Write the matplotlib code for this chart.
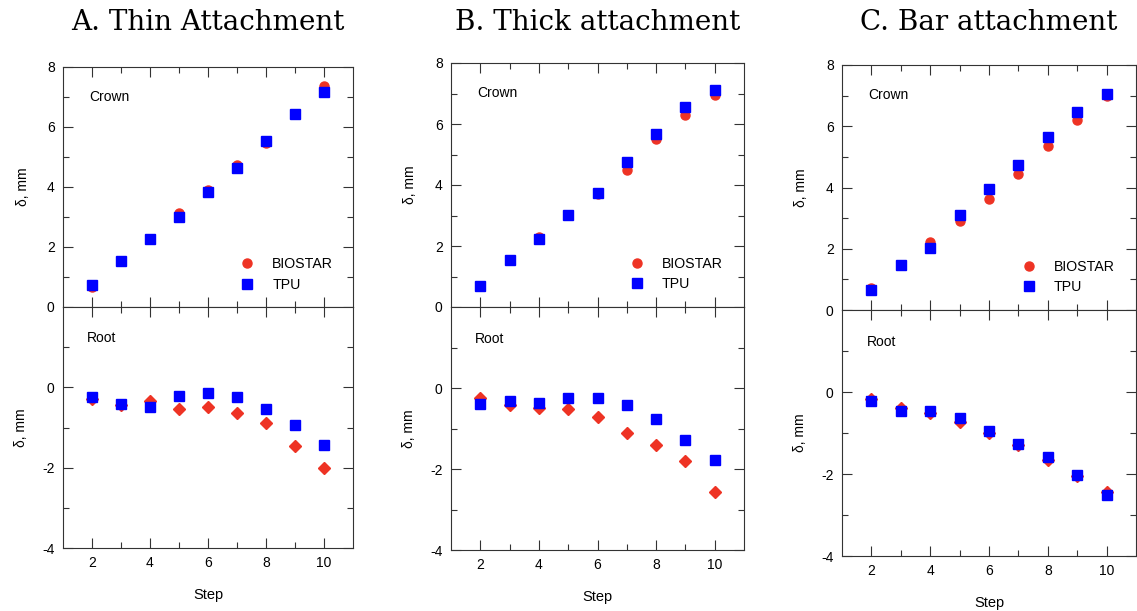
import matplotlib
matplotlib.use("Agg")
import matplotlib.pyplot as plt
from matplotlib.ticker import MultipleLocator, FixedLocator

plt.rcParams['font.family'] = ['Liberation Sans', 'DejaVu Sans']
plt.rcParams['axes.unicode_minus'] = False

steps = [2, 3, 4, 5, 6, 7, 8, 9, 10]

titles = ["A. Thin Attachment", "B. Thick attachment", "C. Bar attachment"]

# Crown deflection (mm)
crown_biostar_A = [0.67, 1.52, 2.27, 3.12, 3.90, 4.72, 5.47, 6.42, 7.38]
crown_tpu_A     = [0.75, 1.52, 2.27, 2.99, 3.82, 4.65, 5.55, 6.44, 7.16]
crown_biostar_B = [0.68, 1.53, 2.31, 3.03, 3.71, 4.50, 5.52, 6.29, 6.96]
crown_tpu_B     = [0.68, 1.53, 2.24, 3.03, 3.73, 4.74, 5.68, 6.56, 7.11]
crown_biostar_C = [0.72, 1.48, 2.22, 2.90, 3.61, 4.43, 5.34, 6.20, 6.99]
crown_tpu_C     = [0.66, 1.48, 2.03, 3.09, 3.94, 4.72, 5.66, 6.46, 7.04]

# Root deflection (mm)
root_biostar_A = [-0.29, -0.43, -0.34, -0.55, -0.48, -0.63, -0.88, -1.46, -2.00]
root_tpu_A     = [-0.24, -0.41, -0.48, -0.21, -0.14, -0.23, -0.53, -0.94, -1.44]
root_biostar_B = [-0.24, -0.41, -0.49, -0.51, -0.72, -1.10, -1.40, -1.81, -2.56]
root_tpu_B     = [-0.39, -0.32, -0.37, -0.25, -0.24, -0.43, -0.77, -1.28, -1.78]
root_biostar_C = [-0.17, -0.39, -0.52, -0.72, -1.00, -1.29, -1.67, -2.06, -2.43]
root_tpu_C     = [-0.21, -0.46, -0.46, -0.63, -0.94, -1.26, -1.59, -2.02, -2.52]

crown_b = [crown_biostar_A, crown_biostar_B, crown_biostar_C]
crown_t = [crown_tpu_A, crown_tpu_B, crown_tpu_C]
root_b = [root_biostar_A, root_biostar_B, root_biostar_C]
root_t = [root_tpu_A, root_tpu_B, root_tpu_C]

RED = '#ee3324'
BLUE = '#0000ff'
W, H = 1137, 611
fig = plt.figure(figsize=(W / 100, H / 100), dpi=100)

# pixel layout: left, right, top, junction, bottom
layout = [(63, 353, 67, 307, 548), (451, 744, 63, 307, 550), (842, 1136, 65, 310, 556)]

def style(ax):
    ax.tick_params(which='both', direction='in', top=True, right=True,
                   labelsize=10, color='#333333', width=0.8)
    ax.tick_params(which='major', length=7, pad=6)
    ax.tick_params(which='minor', length=4)
    for s in ax.spines.values():
        s.set_linewidth(0.8)
        s.set_color('#333333')

for i in range(3):
    l, r, t, j, b = layout[i]
    axc = fig.add_axes([l / W, 1 - j / H, (r - l) / W, (j - t) / H])
    axr = fig.add_axes([l / W, 1 - b / H, (r - l) / W, (b - j) / H])

    axc.plot(steps, crown_b[i], 'o', color=RED, ms=6.5, mec=RED, label='BIOSTAR', zorder=3)
    axc.plot(steps, crown_t[i], 's', color=BLUE, ms=6.5, mec=BLUE, label='TPU', zorder=4)
    axr.plot(steps, root_b[i], 'D', color=RED, ms=6, mec=RED, zorder=3)
    axr.plot(steps, root_t[i], 's', color=BLUE, ms=6.5, mec=BLUE, zorder=4)

    for ax in (axc, axr):
        ax.set_xlim(1, 11)
        ax.xaxis.set_major_locator(FixedLocator([2, 4, 6, 8, 10]))
        ax.xaxis.set_minor_locator(FixedLocator([3, 5, 7, 9]))
        style(ax)
    axc.set_ylim(0, 8)
    axc.yaxis.set_major_locator(MultipleLocator(2))
    axc.yaxis.set_minor_locator(MultipleLocator(1))
    axc.tick_params(labelbottom=False)
    axr.set_ylim(-4, 2)
    axr.yaxis.set_major_locator(FixedLocator([-4, -2, 0]))
    axr.yaxis.set_minor_locator(FixedLocator([-3, -1, 1]))

    axc.set_ylabel('δ, mm', fontsize=10)
    axr.set_ylabel('δ, mm', fontsize=10)
    axc.yaxis.set_label_coords(-0.115, 0.5)
    axr.yaxis.set_label_coords(-0.12, 0.5)
    axr.set_xlabel('Step', fontsize=10.5, labelpad=13)

    axc.text(0.09, 0.876, 'Crown', transform=axc.transAxes, fontsize=10, va='center')
    axr.text(0.083, 0.87, 'Root', transform=axr.transAxes, fontsize=10, va='center')

    axc.legend(loc='center left', bbox_to_anchor=(0.575, 0.135), frameon=False,
               fontsize=10.2, handletextpad=1.0, labelspacing=0.45, borderpad=0,
               handlelength=1.5)

    fig.text((l + r) / 2 / W, 1 - 22 / H, titles[i], ha='center', va='center',
             fontsize=20, family=['DejaVu Serif'])

fig.savefig('out.png', dpi=100)
